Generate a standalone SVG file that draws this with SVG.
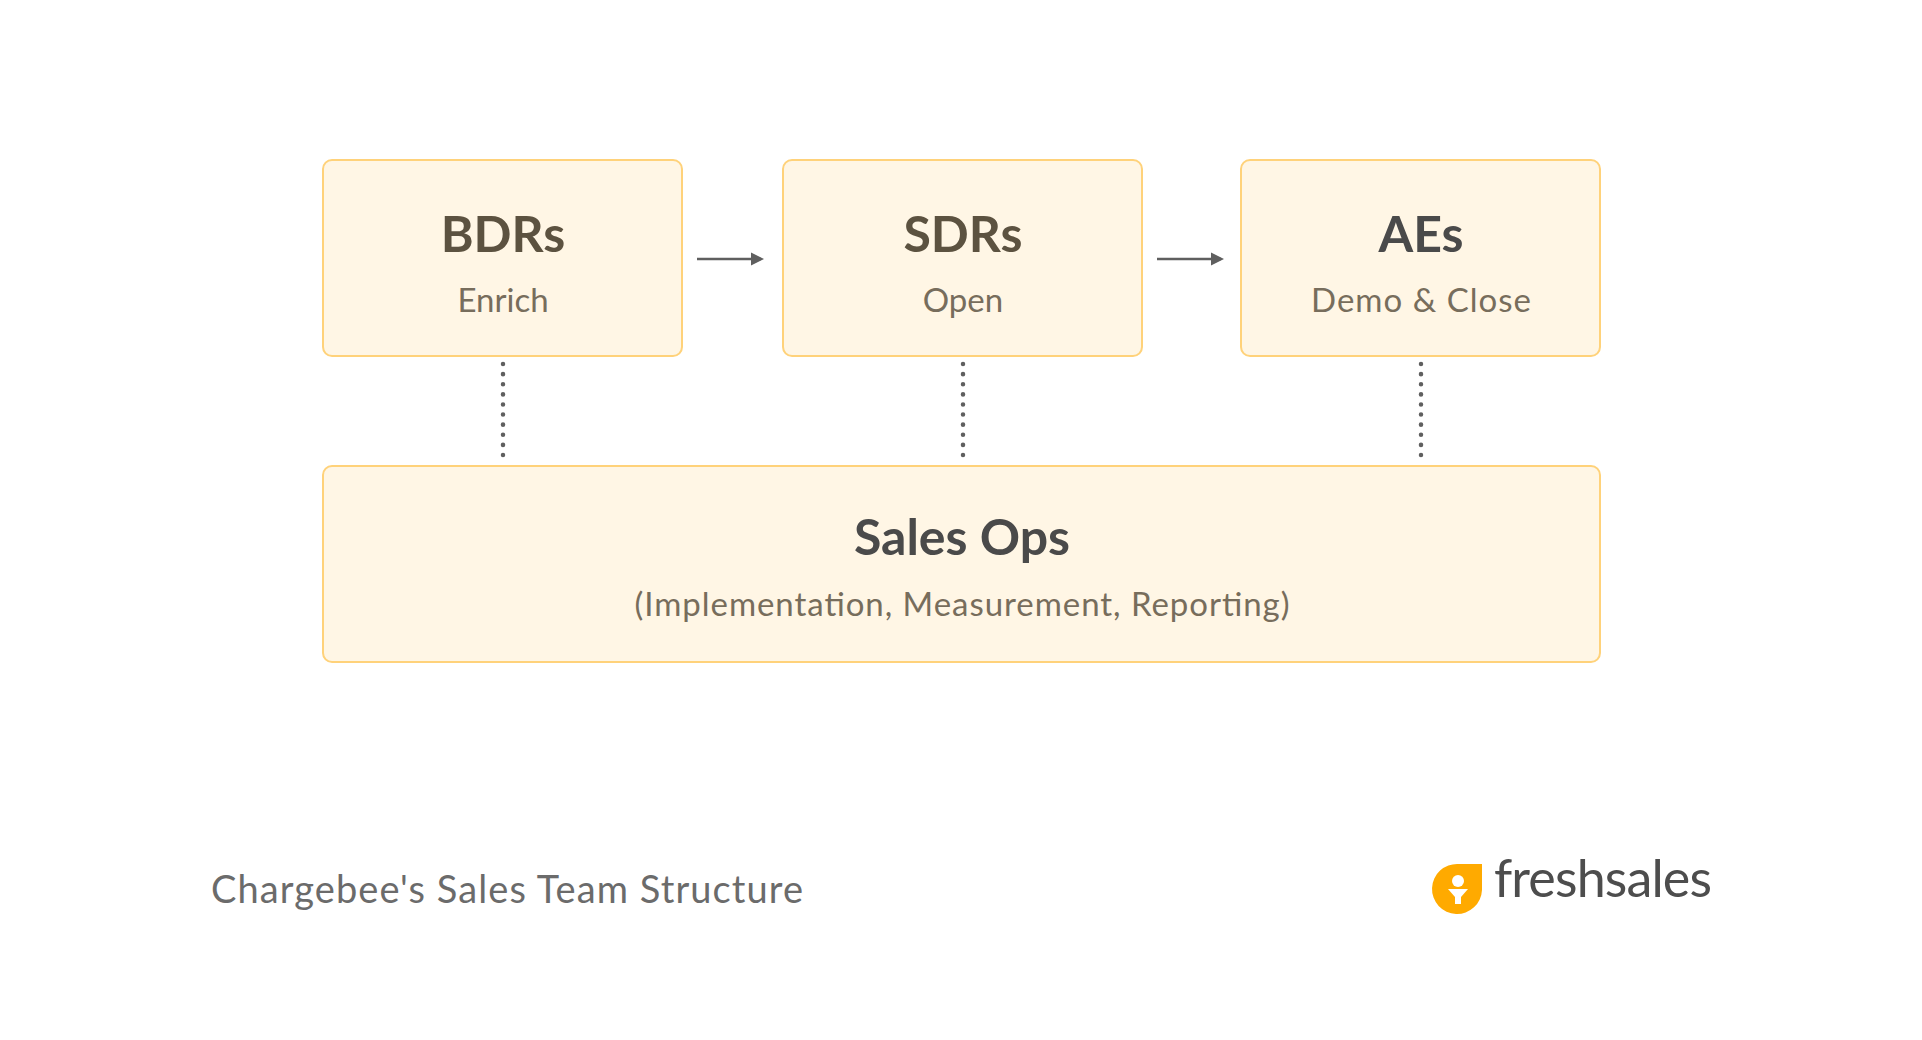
<svg xmlns="http://www.w3.org/2000/svg" width="1922" height="1040" viewBox="0 0 1922 1040">
<style>
.box{fill:#FFF6E5;stroke:#FFD27A;stroke-width:2}
.t{font-family:Lato,"Open Sans",sans-serif;font-weight:bold;font-size:50px;fill:#5C5240;text-anchor:middle}
.s{font-family:Lato,"Open Sans",sans-serif;font-size:33px;fill:#776D5C;text-anchor:middle}
.dot{stroke:#5F5F5F;stroke-width:4.5;stroke-dasharray:0.1 10;stroke-linecap:round;fill:none}
.arr{stroke:#5F5F5F;stroke-width:2.5;fill:none;marker-end:url(#ah)}
</style>
<defs><marker id="ah" markerWidth="14" markerHeight="14" refX="10" refY="7" orient="auto" markerUnits="userSpaceOnUse"><path d="M0,0.5 L13,7 L0,13.5 Z" fill="#5F5F5F"/></marker></defs>
<rect width="1922" height="1040" fill="#fff"/>
<g id="connectors">
<path class="arr" d="M697 259 H761"/>
<path class="arr" d="M1157 259 H1221"/>
<path class="dot" d="M503 364 V462"/>
<path class="dot" d="M963 364 V462"/>
<path class="dot" d="M1421 364 V462"/>
</g>
<g id="bdrs"><rect class="box" x="323" y="160" width="359" height="196" rx="9"/><text class="t" x="503" y="252">BDRs</text><text class="s" x="503" y="312">Enrich</text></g>
<g id="sdrs"><rect class="box" x="783" y="160" width="359" height="196" rx="9"/><text class="t" x="963" y="252">SDRs</text><text class="s" x="963" y="312">Open</text></g>
<g id="aes"><rect class="box" x="1241" y="160" width="359" height="196" rx="9"/><text class="t" x="1421" y="252" style="fill:#4A4A4A">AEs</text><text class="s" x="1421" y="312" textLength="220">Demo &amp; Close</text></g>
<g id="salesops"><rect class="box" x="323" y="466" width="1277" height="196" rx="9"/><text class="t" x="962" y="555" style="fill:#4A4A4A">Sales Ops</text><text class="s" x="962" y="616" textLength="655">(Implementation, Measurement, Reporting)</text></g>
<text x="211" y="903" font-family="Lato,'Open Sans',sans-serif" font-size="38" fill="#6B6B6B" textLength="592">Chargebee's Sales Team Structure</text>
<g id="logo">
<path d="M1458 864 H1482 V890 A25 25 0 1 1 1458 864 Z" fill="#FFAA00"/>
<circle cx="1458" cy="881" r="6" fill="#fff"/>
<path d="M1448 889 H1468 L1461 897 V904 H1455 V897 Z" fill="#fff"/>
<text x="1494" y="897" font-family="Lato,'Open Sans',sans-serif" font-size="52" fill="#4D4D4D" textLength="218">freshsales</text>
</g>
</svg>
